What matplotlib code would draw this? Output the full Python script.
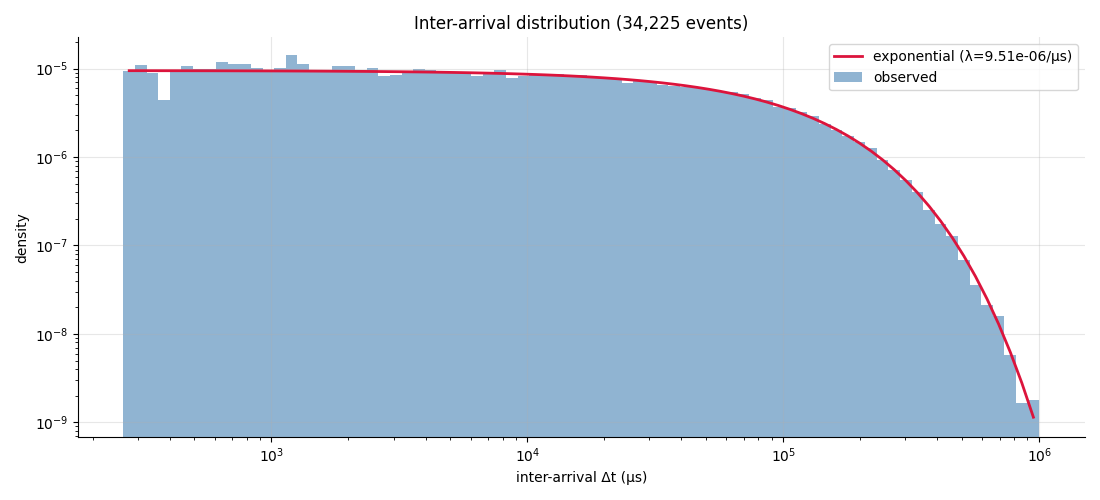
import numpy as np
import matplotlib
matplotlib.use("Agg")
import matplotlib.pyplot as plt

# histogram: 79 log-spaced bins between the smallest and largest gap
n_events = 34225
dt_min = 264.0
dt_max = 1.0e6
n_bins = 79
lam = 9.51e-06  # fitted rate, per microsecond

# observed density per bin
density = [
    9.3e-6, 1.10e-5, 8.85e-6, 4.4e-6, 9.4e-6, 1.06e-5, 1.0e-5, 1.0e-5, 1.18e-5, 1.12e-5,
    1.12e-5, 1.03e-5, 9.1e-6, 1.03e-5, 1.42e-5, 1.12e-5, 9.6e-6, 9.6e-6, 1.06e-5, 1.06e-5,
    9.6e-6, 1.03e-5, 8.2e-6, 8.4e-6, 9.3e-6, 1.0e-5, 9.6e-6, 9.2e-6, 9.1e-6, 9.0e-6,
    8.2e-6, 8.8e-6, 9.6e-6, 7.8e-6, 8.2e-6, 8.4e-6, 8.4e-6, 8.8e-6, 8.4e-6, 8.5e-6,
    8.1e-6, 7.8e-6, 7.6e-6, 6.86e-6, 7.3e-6, 7.1e-6, 6.5e-6, 6.4e-6, 6.2e-6, 5.97e-6,
    5.9e-6, 5.6e-6, 5.4e-6, 5.1e-6, 4.6e-6, 4.4e-6, 3.7e-6, 3.55e-6, 3.2e-6, 2.9e-6,
    2.34e-6, 2.02e-6, 1.73e-6, 1.48e-6, 1.25e-6, 9.2e-7, 7.2e-7, 5.5e-7, 4.07e-7, 2.55e-7,
    1.77e-7, 1.29e-7, 6.9e-8, 3.6e-8, 2.14e-8, 1.6e-8, 5.8e-9, 1.67e-9, 1.8e-9,
]

edges = np.logspace(np.log10(dt_min), np.log10(dt_max), n_bins + 1)
centers = np.sqrt(edges[:-1] * edges[1:])
pdf = lam * np.exp(-lam * centers)

fig, ax = plt.subplots(figsize=(11, 5), dpi=100)
ax.bar(edges[:-1], density, width=np.diff(edges), align="edge",
       color="steelblue", alpha=0.6, label="observed")
ax.plot(centers, pdf, color="crimson", lw=2,
        label=f"exponential (λ={lam:.2e}/μs)")

ax.set_xscale("log")
ax.set_yscale("log")
ax.set_xlim(175, 1.51e6)
ax.set_ylim(6.8e-10, 2.26e-5)
ax.grid(True, alpha=0.3)
ax.spines["top"].set_visible(False)
ax.spines["right"].set_visible(False)
ax.set_xlabel("inter-arrival Δt (μs)")
ax.set_ylabel("density")
ax.set_title(f"Inter-arrival distribution ({n_events:,} events)")
ax.legend(loc="upper right")

plt.tight_layout()
plt.savefig("out.png")
